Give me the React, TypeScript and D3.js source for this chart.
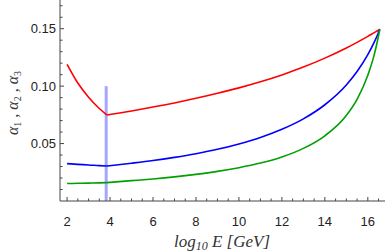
import React from 'react';
import * as d3 from 'd3';

const energies = [2, 2.5, 3, 3.5, 3.85, 5, 6, 7, 8, 9, 10, 11, 12, 13, 14, 15, 15.5, 16, 16.3, 16.45, 16.56];
const alpha1 = [0.119, 0.1027, 0.0903, 0.0805, 0.0749, 0.0784, 0.0818, 0.0854, 0.0894, 0.0938, 0.0985, 0.1038, 0.1098, 0.1166, 0.1244, 0.1332, 0.1381, 0.1433, 0.1466, 0.1482, 0.1495];
const alpha2 = [0.0325, 0.0319, 0.0314, 0.0308, 0.0305, 0.0329, 0.0352, 0.038, 0.0412, 0.045, 0.0497, 0.0553, 0.0624, 0.0715, 0.0838, 0.101, 0.1127, 0.1274, 0.1383, 0.1445, 0.1495];
const alpha3 = [0.0152, 0.0154, 0.0156, 0.0158, 0.016, 0.0177, 0.0192, 0.021, 0.0232, 0.0258, 0.029, 0.033, 0.0383, 0.0458, 0.0568, 0.0745, 0.0885, 0.1095, 0.1274, 0.1395, 0.1495];
const breakIndex = 4; // kink at the threshold

const markerE = 3.82;
const markerTop = 0.1;

const xTicks = [2, 4, 6, 8, 10, 12, 14, 16];
const yTicks = [0.05, 0.1, 0.15];

const series = [
  { values: alpha1, color: '#ff0000' },
  { values: alpha2, color: '#0000ff' },
  { values: alpha3, color: '#00a000' },
];

const App = () => {
  const width = 388;
  const height = 252;
  const left = 60;
  const bottom = 201;

  const x = d3.scaleLinear().domain([1.67, 16.8]).range([left, 385]);
  const y = d3.scaleLinear().domain([0, 0.175]).range([bottom, 0]);

  const line = d3.line<[number, number]>()
    .x(d => x(d[0]))
    .y(d => y(d[1]))
    .curve(d3.curveMonotoneX);

  const xMinor = d3.range(2, 16.6, 0.5).filter(v => Math.abs(v % 2) > 0.01);
  const yMinor = d3.range(0.01, 0.175, 0.01).filter(v => Math.abs((v * 100) % 5) > 0.01 && Math.abs((v * 100) % 5 - 5) > 0.01);

  const axisColor = '#444';
  const labelFont = '"Liberation Sans", Arial, sans-serif';
  const serif = '"Liberation Serif", "Times New Roman", serif';

  return (
    <svg width={width} height={height} style={{ position: 'absolute', left: 0, top: 0, background: '#fff' }}>
      {/* marker line */}
      <line x1={x(markerE)} x2={x(markerE)} y1={y(0)} y2={y(markerTop)}
        stroke="#6a6aff" strokeOpacity={0.6} strokeWidth={3} />

      {series.map((s, i) => {
        const pts: [number, number][] = energies.map((e, j) => [e, s.values[j]]);
        return (
          <g key={i}>
            <path d={line(pts.slice(0, breakIndex + 1)) || ''} fill="none" stroke={s.color} strokeWidth={1.6} />
            <path d={line(pts.slice(breakIndex)) || ''} fill="none" stroke={s.color} strokeWidth={1.6} />
          </g>
        );
      })}

      {/* axes */}
      <line x1={left} x2={left} y1={0} y2={bottom} stroke={axisColor} strokeWidth={1} />
      <line x1={left} x2={385} y1={bottom} y2={bottom} stroke={axisColor} strokeWidth={1} />

      {xTicks.map(t => (
        <g key={'xt' + t}>
          <line x1={x(t)} x2={x(t)} y1={bottom} y2={bottom - 4} stroke={axisColor} />
          <text x={x(t)} y={226} textAnchor="middle" fontSize={13} fontFamily={labelFont} fill="#222">{t}</text>
        </g>
      ))}
      {xMinor.map(t => (
        <line key={'xm' + t} x1={x(t)} x2={x(t)} y1={bottom} y2={bottom - 2.5} stroke={axisColor} />
      ))}

      {yTicks.map(t => (
        <g key={'yt' + t}>
          <line x1={left} x2={left + 4} y1={y(t)} y2={y(t)} stroke={axisColor} />
          <text x={56} y={y(t)} dy="0.36em" textAnchor="end" fontSize={13} fontFamily={labelFont} fill="#222">{d3.format('.2f')(t)}</text>
        </g>
      ))}
      {yMinor.map(t => (
        <line key={'ym' + t} x1={left} x2={left + 2.5} y1={y(t)} y2={y(t)} stroke={axisColor} />
      ))}

      {/* axis titles */}
      <text x={222} y={247} textAnchor="middle" fontFamily={serif}
        fontStyle="italic" fontSize={17} fill="#333">
        log<tspan fontSize={12} dy={3}>10</tspan><tspan dy={-3}> E [GeV]</tspan>
      </text>
      <text transform="translate(18,103) rotate(-90)" textAnchor="middle"
        fontFamily={serif} fontStyle="italic" fontSize={16} fill="#333">
        α<tspan fontSize={10} dy={3} fontStyle="normal">1</tspan>
        <tspan dy={-3}> , α</tspan><tspan fontSize={10} dy={3} fontStyle="normal">2</tspan>
        <tspan dy={-3}> , α</tspan><tspan fontSize={10} dy={3} fontStyle="normal">3</tspan>
      </text>
    </svg>
  );
};

export default App;
